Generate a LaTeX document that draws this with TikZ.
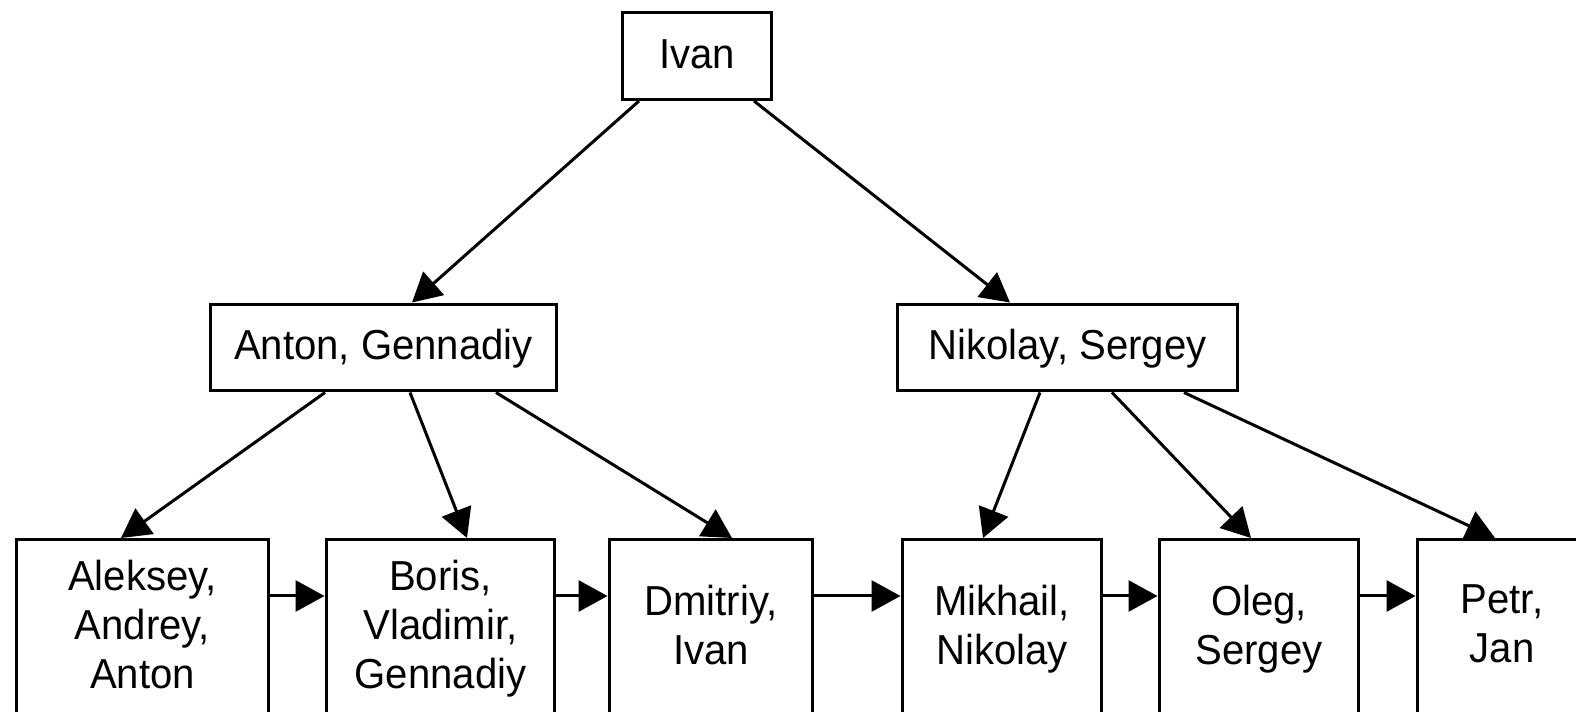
\documentclass[tikz,border=0pt]{standalone}
\usepackage{fontspec}
\setmainfont[FakeStretch=0.957]{Liberation Sans}
\usepackage{tikz}
\usetikzlibrary{arrows.meta,positioning,calc}

\begin{document}
\begin{tikzpicture}[
      x=0.02cm, y=-0.02cm,
      font=\fontsize{23.85}{27.9}\selectfont,
      line width=0.06cm,
      % Reusable styles
      top/.style={
        draw,
        inner sep=0pt,
        text height=0.6cm,
        text depth=0.1cm,
        minimum height=1.74cm
      },
      leaf/.style={
        draw,
        anchor=north,
        inner sep=0pt,
        minimum height=4.8cm
      },
      txt/.style={align=center, inner sep=0pt, anchor=north},
      arrow/.style={-{Triangle[length=0.58cm,width=0.62cm]}}
    ]
    \useasboundingbox (0,0) rectangle (1576,712);
    \clip (0,0) rectangle (1576,712);

    % Nodes
    \node[top, minimum width=3cm] (ivan) at (697,56) {Ivan};
    \node[top, minimum width=6.94cm] (antgen) at (383.5,347.5) {Anton, Gennadiy};
    \node[top, minimum width=6.82cm] (nikser) at (1067.5,347.5) {Nikolay, Sergey};

    \node[leaf, minimum width=5.06cm] (aleksey) at (142.5,538) {};
    \node[leaf, minimum width=4.58cm] (boris) at (440.5,538) {};
    \node[leaf, minimum width=4.08cm] (dmitriy) at (711,538) {};
    \node[leaf, minimum width=4cm] (mikhail) at (1002,538) {};
    \node[leaf, minimum width=4cm] (oleg) at (1259,538) {};
    \node[leaf, minimum width=3.4cm] (petr) at (1502,538) {};

    % Texts of the lower row, first cap line on top
    \node[txt] (aleksey-txt) at (142.5,559) {Aleksey,\\Andrey,\\Anton};
    \node[txt] (boris-txt) at (440.5,559) {Boris,\\Vladimir,\\Gennadiy};
    \node[txt] (dmitriy-txt) at (711,583.5) {Dmitriy,\\Ivan};
    \node[txt] (mikhail-txt) at (1002,583.5) {Mikhail,\\Nikolay};
    \node[txt] (oleg-txt) at (1259,583.5) {Oleg,\\Sergey};
    \node[txt] (petr-txt) at (1502,583.5) {Petr,\\Jan};

    % Edges
    \draw[arrow] ($(ivan.south)+(-58,0)$) -- ($(antgen.north)+(28.5,0)$);
    \draw[arrow] ($(ivan.south)+(57,0)$) -- ($(nikser.north)+(-57.5,0)$);

    \draw[arrow] ($(antgen.south)+(-58.5,0)$) -- ($(aleksey.north)+(-21.5,0)$);
    \draw[arrow] ($(antgen.south)+(26.5,0)$) -- ($(boris.north)+(26.5,0)$);
    \draw[arrow] ($(antgen.south)+(112.5,0)$) -- ($(dmitriy.north)+(21,0)$);

    \draw[arrow] ($(nikser.south)+(-27.5,0)$) -- ($(mikhail.north)+(-19,0)$);
    \draw[arrow] ($(nikser.south)+(44.5,0)$) -- ($(oleg.north)+(-8,0)$);
    \draw[arrow] ($(nikser.south)+(116.5,0)$) -- ($(petr.north)+(-7,0)$);

    \draw[arrow] (aleksey.east |- 0,596) -- (boris.west |- 0,596);
    \draw[arrow] (boris.east |- 0,596) -- (dmitriy.west |- 0,596);
    \draw[arrow] (dmitriy.east |- 0,596) -- (mikhail.west |- 0,596);
    \draw[arrow] (mikhail.east |- 0,596) -- (oleg.west |- 0,596);
    \draw[arrow] (oleg.east |- 0,596) -- (petr.west |- 0,596);
  \end{tikzpicture}
\end{document}
